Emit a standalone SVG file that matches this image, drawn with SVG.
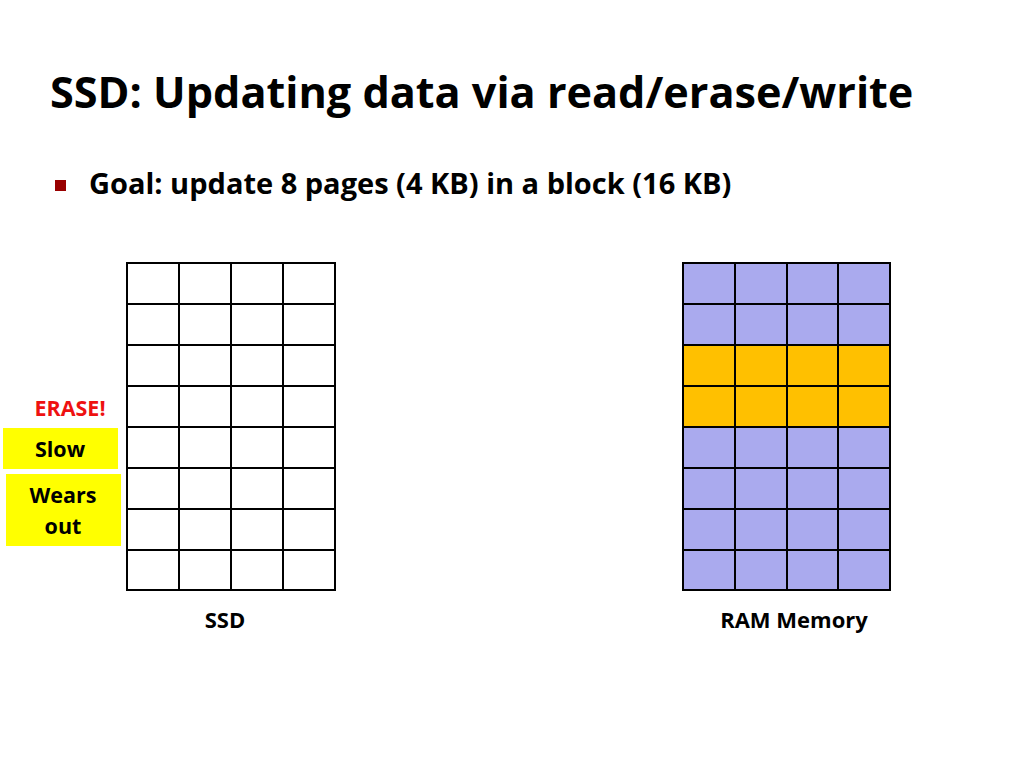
<svg xmlns="http://www.w3.org/2000/svg" width="1024" height="768" viewBox="0 0 1024 768">
<style>
text{font-family:"Open Sans",Lato,sans-serif;font-weight:bold;fill:#000;font-variant-ligatures:none}
.g{stroke:#000;stroke-width:2;fill:none}
.ram{fill:#AAAAEE}
.hot{fill:#FFC000}
.y{fill:#FFFF00}
.lbl{font-size:22px}
</style>
<rect width="1024" height="768" fill="#fff"/>
<text x="50" y="108" font-size="43.2">SSD: Updating data via read/erase/write</text>
<rect x="55" y="180" width="11" height="11" fill="#990000"/>
<text x="89" y="194" font-size="29">Goal: update 8 pages (4 KB) in a block (16 KB)</text>
<g id="ssd">
<rect x="127" y="263" width="208" height="327" fill="#fff"/>
<path class="g" d="M127 263H335V590H127Z M179 263V590 M231 263V590 M283 263V590 M127 304H335 M127 345H335 M127 386H335 M127 427H335 M127 468H335 M127 509H335 M127 550H335"/>
</g>
<g id="ram">
<rect class="ram" x="683" y="263" width="207" height="327"/>
<rect class="hot" x="683" y="345" width="207" height="82"/>
<path class="g" d="M683 263H890V590H683Z M735 263V590 M787 263V590 M838 263V590 M683 304H890 M683 345H890 M683 386H890 M683 427H890 M683 468H890 M683 509H890 M683 550H890"/>
</g>
<g id="erase">
<text x="70" y="416" font-size="21.5" text-anchor="middle" style="fill:#EE1111">ERASE!</text>
</g>
<g id="slow">
<rect class="y" x="3" y="428" width="115" height="41"/>
<text x="60" y="457" font-size="21.5" text-anchor="middle">Slow</text>
</g>
<g id="wears">
<rect class="y" x="6" y="474" width="115" height="72"/>
<text x="63" y="503" font-size="21.5" text-anchor="middle">Wears</text>
<text x="63" y="534" font-size="21.5" text-anchor="middle">out</text>
</g>
<text class="lbl" x="225" y="628" text-anchor="middle">SSD</text>
<text class="lbl" x="794" y="628" text-anchor="middle">RAM Memory</text>
</svg>
